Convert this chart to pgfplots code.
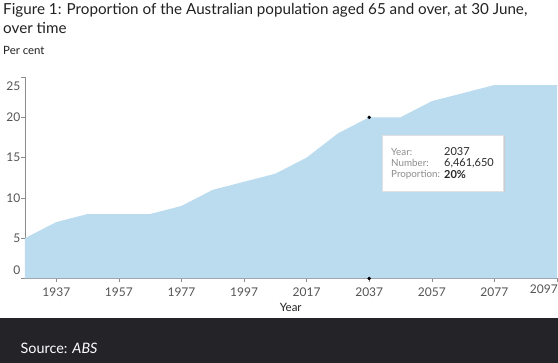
\documentclass[border=0pt]{standalone}
\usepackage{fontspec}
\setmainfont{Lato}
\usepackage{pgfplots}
\pgfplotsset{compat=1.18}
\definecolor{areablue}{RGB}{187,219,239}
\definecolor{axisgray}{RGB}{140,140,140}
\definecolor{ticktext}{RGB}{85,85,85}
\definecolor{titletext}{RGB}{34,34,34}
\definecolor{footer}{RGB}{36,35,40}
\definecolor{tiplabel}{RGB}{140,140,140}
\definecolor{tipvalue}{RGB}{40,40,40}
\begin{document}
\begin{tikzpicture}[x=1pt,y=1pt]
\useasboundingbox (0pt,0pt) rectangle (558pt,363pt);
\fill[white] (0pt,0pt) rectangle (558pt,363pt);
\fill[footer] (0pt,0pt) rectangle (558pt,45pt);
\begin{axis}[
  at={(25pt,84.5pt)}, anchor=south west,
  scale only axis, width=532pt, height=201.5pt,
  xmin=1927, xmax=2097, ymin=0, ymax=25,
  axis x line*=bottom, axis y line*=left,
  axis line style={axisgray, line width=0.8pt, -},
  tick style={axisgray, line width=0.6pt},
  tick align=outside, major tick length=3.5pt,
  xtick={1937,1957,1977,1997,2017,2037,2057,2077,2097},
  xticklabels={1937,1957,1977,1997,2017,2037,2057,2077,{}},
  xticklabel style={font=\fontsize{12}{12}\selectfont, text=ticktext, anchor=center, yshift=-10.5pt},
  ytick={0,5,10,15,20,25}, yticklabels={},
  clip=false,
]
\addplot[fill=areablue, draw=none] coordinates {
 (1927,5) (1937,7) (1947,8) (1957,8) (1967,8) (1977,9) (1987,11) (1997,12)
 (2007,13) (2017,15) (2027,18) (2037,20) (2047,20) (2057,22) (2067,23)
 (2077,24) (2087,24) (2097,24)
} \closedcycle;
\addplot[only marks, mark=*, mark size=1.5pt, black] coordinates {(2037,20) (2037,0)};
\end{axis}
% y tick labels
\begin{scope}[every node/.style={inner sep=0pt, anchor=east, text=ticktext, font=\fontsize{12}{12}\selectfont}]
\node at (20.5pt,277pt) {25};
\node at (20.5pt,245.7pt) {20};
\node at (20.5pt,205.7pt) {15};
\node at (20.5pt,165pt) {10};
\node at (20.5pt,124.7pt) {5};
\node at (20.5pt,93pt) {0};
\node at (558pt,74pt) {2097};
\end{scope}
\node[inner sep=0pt, text=titletext, font=\fontsize{11.5}{11.5}\selectfont] at (290.7pt,56pt) {Year};
% title
\node[inner sep=0pt, anchor=base west, text=titletext, font=\fontsize{15.2}{15.2}\selectfont] at (3pt,348pt) {Figure 1: Proportion of the Australian population aged 65 and over, at 30 June,};
\node[inner sep=0pt, anchor=base west, text=titletext, font=\fontsize{15.2}{15.2}\selectfont] at (3pt,329.5pt) {over time};
\node[inner sep=0pt, anchor=base west, text=titletext, font=\fontsize{11.4}{11.4}\selectfont] at (3pt,308pt) {Per cent};
% tooltip
\fill[black!20] (383.5pt,170.5pt) rectangle (504.5pt,226.5pt);
\fill[white, draw=black!12, line width=0.4pt] (382pt,172pt) rectangle (503pt,228pt);
\begin{scope}[every node/.style={inner sep=0pt, anchor=west}]
\node[text=tiplabel, font=\fontsize{9.8}{9.8}\selectfont] at (391pt,211.3pt) {Year:};
\node[text=tiplabel, font=\fontsize{9.8}{9.8}\selectfont] at (391pt,200pt) {Number:};
\node[text=tiplabel, font=\fontsize{9.8}{9.8}\selectfont] at (391pt,188pt) {Proportion:};
\node[text=tipvalue, font=\fontsize{11}{11}\selectfont] at (444pt,211.3pt) {2037};
\node[text=tipvalue, font=\fontsize{11}{11}\selectfont] at (444pt,200pt) {6,461,650};
\node[text=tipvalue, font=\fontsize{11}{11}\selectfont] at (444pt,188pt) {\textbf{20\%}};
\end{scope}
% footer
\node[inner sep=0pt, anchor=base west, text=white, font=\fontsize{14.4}{14.4}\selectfont] at (20.5pt,9pt) {Source: \textit{ABS}};
\end{tikzpicture}
\end{document}
